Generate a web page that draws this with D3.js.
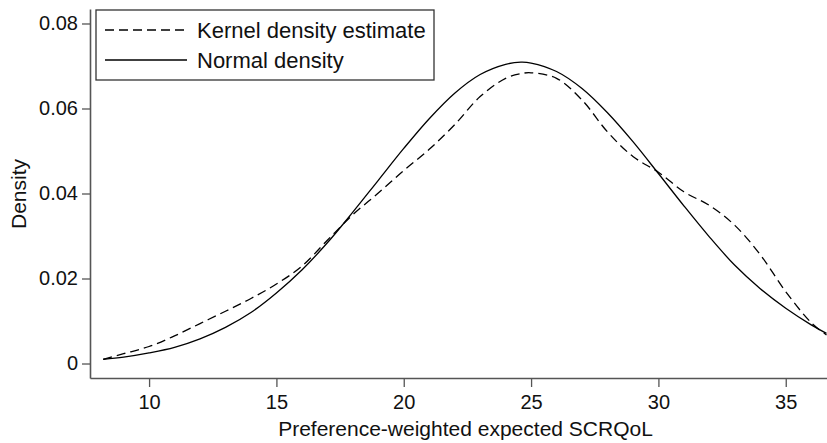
<!DOCTYPE html>
<html>
<head>
<meta charset="utf-8">
<script src="https://cdn.jsdelivr.net/npm/d3@7"></script>
<style>
  html, body { margin: 0; padding: 0; background: #fff; }
  svg { display: block; font-family: "Liberation Sans", Arial, Helvetica, sans-serif; }
</style>
</head>
<body>
<svg id="chart" width="827" height="443"></svg>
<script>
// ---- data ----
const xValues = [8.2, 9, 10, 11, 12, 13, 14, 15, 16, 17, 18, 19, 20, 21, 22, 23, 24, 24.6, 25, 26, 27, 28, 29, 30, 31, 32, 33, 34, 35, 36, 36.6];
const kernelDensity = [0.0010, 0.0023, 0.0040, 0.0065, 0.0094, 0.0123, 0.0153, 0.0187, 0.0229, 0.0290, 0.0350, 0.0401, 0.0454, 0.0504, 0.0562, 0.0628, 0.0671, 0.0682, 0.0684, 0.0671, 0.0620, 0.0545, 0.0487, 0.0450, 0.0404, 0.0372, 0.0325, 0.0256, 0.0169, 0.0096, 0.0067];
const normalDensity = [0.0010, 0.0015, 0.0025, 0.0038, 0.0058, 0.0085, 0.0120, 0.0166, 0.0220, 0.0284, 0.0356, 0.0431, 0.0506, 0.0576, 0.0636, 0.0680, 0.0704, 0.0709, 0.0707, 0.0687, 0.0647, 0.0590, 0.0522, 0.0447, 0.0371, 0.0298, 0.0231, 0.0176, 0.0130, 0.0091, 0.0071];
const xTicks = [10, 15, 20, 25, 30, 35];
const yTicks = [0, 0.02, 0.04, 0.06, 0.08];
const yTickLabels = ["0", "0.02", "0.04", "0.06", "0.08"];
const seriesNames = ["Kernel density estimate", "Normal density"];
const xTitle = "Preference-weighted expected SCRQoL";
const yTitle = "Density";

// ---- layout ----
const svg = d3.select("#chart");
const plotLeft = 90, plotRight = 827, plotTop = 9, plotBottom = 378;

const x = d3.scaleLinear().domain([7.68, 36.62]).range([plotLeft, plotRight]);
const y = d3.scaleLinear().domain([-0.00341, 0.08341]).range([plotBottom, plotTop]);

const axisColor = "#555";

// clip
svg.append("defs").append("clipPath").attr("id", "plotclip")
  .append("rect").attr("x", plotLeft).attr("y", plotTop - 5).attr("width", plotRight - plotLeft).attr("height", plotBottom - plotTop + 5);

// axes
const yAxis = svg.append("g").attr("transform", `translate(${plotLeft},0)`)
  .call(d3.axisLeft(y).tickValues(yTicks).tickFormat((d, i) => yTickLabels[i]).tickSize(8).tickPadding(4).tickSizeOuter(0));
const xAxis = svg.append("g").attr("transform", `translate(0,${plotBottom})`)
  .call(d3.axisBottom(x).tickValues(xTicks).tickFormat(d3.format("d")).tickSize(9).tickPadding(8).tickSizeOuter(0));

[xAxis, yAxis].forEach(g => {
  g.select(".domain").attr("stroke", axisColor).attr("stroke-width", 1.6);
  g.selectAll(".tick line").attr("stroke", axisColor).attr("stroke-width", 1.3);
  g.selectAll(".tick text").attr("fill", "#111").style("font-size", "20px").style("font-family", '"Liberation Sans", Arial, sans-serif');
});

// curves
const line = d3.line().x(d => x(d[0])).y(d => y(d[1])).curve(d3.curveCatmullRom.alpha(0.5));
const plot = svg.append("g").attr("clip-path", "url(#plotclip)");
plot.append("path")
  .datum(xValues.map((v, i) => [v, normalDensity[i]]))
  .attr("d", line).attr("fill", "none").attr("stroke", "#000").attr("stroke-width", 1.3);
plot.append("path")
  .datum(xValues.map((v, i) => [v, kernelDensity[i]]))
  .attr("d", line).attr("fill", "none").attr("stroke", "#000").attr("stroke-width", 1.3)
  .attr("stroke-dasharray", "9,5");

// titles
svg.append("text").attr("x", (plotLeft + plotRight) / 2 + 7).attr("y", 436)
  .attr("text-anchor", "middle").style("font-size", "21px").attr("fill", "#111").text(xTitle);
svg.append("text").attr("transform", `translate(26,194) rotate(-90)`)
  .attr("text-anchor", "middle").style("font-size", "21px").attr("fill", "#111").text(yTitle);

// legend
const lg = svg.append("g");
lg.append("rect").attr("x", 96).attr("y", 10).attr("width", 338).attr("height", 70)
  .attr("fill", "#fff").attr("stroke", "#333").attr("stroke-width", 1.3);
const legendRows = [{ name: seriesNames[0], dash: "9,5", yy: 30 }, { name: seriesNames[1], dash: null, yy: 60 }];
legendRows.forEach(r => {
  lg.append("line").attr("x1", 105).attr("x2", 187).attr("y1", r.yy).attr("y2", r.yy)
    .attr("stroke", "#000").attr("stroke-width", 1.3).attr("stroke-dasharray", r.dash);
  lg.append("text").attr("x", 197).attr("y", r.yy).attr("dy", "0.35em")
    .style("font-size", "22px").attr("fill", "#111").text(r.name);
});
</script>
</body>
</html>
